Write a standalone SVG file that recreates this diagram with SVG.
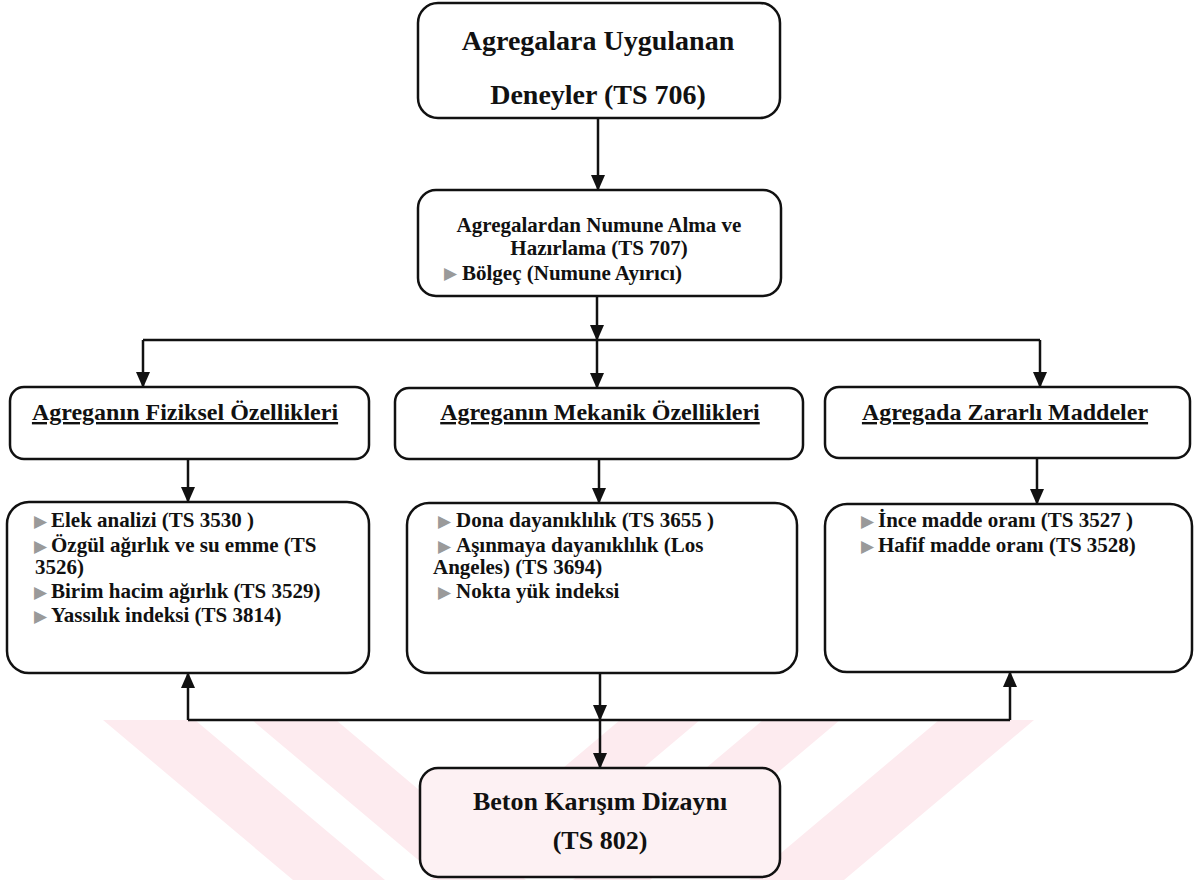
<svg xmlns="http://www.w3.org/2000/svg" width="1197" height="880" viewBox="0 0 1197 880">
<style>
.box{fill:#fff;stroke:#111;stroke-width:2.5}
.t{font-family:"Liberation Serif","Times New Roman",serif;font-weight:bold;fill:#111}
.c{text-anchor:middle}
.u{text-decoration:underline}
.b{font-family:"DejaVu Sans",sans-serif;fill:#9a9a9a;font-size:17px}
.ln{stroke:#111;stroke-width:2.5;fill:none}
.wm{fill:#fdebef}
</style>
<defs>
<marker id="ad" markerUnits="userSpaceOnUse" markerWidth="16" markerHeight="14" refX="15" refY="7" orient="auto" viewBox="0 0 16 14">
<path d="M0,0 L16,7 L0,14 Z" fill="#111"/>
</marker>
</defs>
<rect width="1197" height="880" fill="#fff"/>
<g id="watermark">
<polygon class="wm" points="103,720 195,720 385,880 293,880"/>
<polygon class="wm" points="252,720 336,720 526,880 442,880"/>
<polygon class="wm" points="620,720 700,720 510,880 430,880"/>
<polygon class="wm" points="763,720 840,720 650,880 573,880"/>
<polygon class="wm" points="939,720 1034,720 844,880 749,880"/>
</g>
<g id="connectors">
<line class="ln" x1="598" y1="118" x2="598" y2="190" marker-end="url(#ad)"/>
<line class="ln" x1="597" y1="296" x2="597" y2="340" marker-end="url(#ad)"/>
<line class="ln" x1="143" y1="340" x2="1040" y2="340"/>
<line class="ln" x1="143" y1="340" x2="143" y2="387" marker-end="url(#ad)"/>
<line class="ln" x1="597" y1="340" x2="597" y2="388" marker-end="url(#ad)"/>
<line class="ln" x1="1040" y1="340" x2="1040" y2="387" marker-end="url(#ad)"/>
<line class="ln" x1="188" y1="459" x2="188" y2="502" marker-end="url(#ad)"/>
<line class="ln" x1="599" y1="459" x2="599" y2="503" marker-end="url(#ad)"/>
<line class="ln" x1="1037" y1="458" x2="1037" y2="504" marker-end="url(#ad)"/>
<line class="ln" x1="600" y1="673" x2="600" y2="720" marker-end="url(#ad)"/>
<line class="ln" x1="188" y1="720" x2="1010" y2="720"/>
<line class="ln" x1="188" y1="720" x2="188" y2="673" marker-end="url(#ad)"/>
<line class="ln" x1="1010" y1="720" x2="1010" y2="672" marker-end="url(#ad)"/>
<line class="ln" x1="600" y1="720" x2="600" y2="768" marker-end="url(#ad)"/>
</g>
<g id="n1">
<rect class="box" x="418" y="3" width="362" height="115" rx="20"/>
<text class="t c" x="598" y="50" font-size="28">Agregalara Uygulanan</text>
<text class="t c" x="598" y="104" font-size="28">Deneyler (TS 706)</text>
</g>
<g id="n2">
<rect class="box" x="418" y="190" width="363" height="106" rx="18"/>
<text class="t c" x="599" y="232" font-size="21">Agregalardan Numune Alma ve</text>
<text class="t c" x="599" y="255" font-size="21">Hazırlama (TS 707)</text>
<text class="b" x="444" y="279">▶</text>
<text class="t" x="462" y="280" font-size="21">Bölgeç (Numune Ayırıcı)</text>
</g>
<g id="h1">
<rect class="box" x="10" y="387" width="359" height="72" rx="14"/>
<text class="t c u" x="185" y="420" font-size="24">Agreganın Fiziksel Özellikleri</text>
</g>
<g id="h2">
<rect class="box" x="395" y="388" width="408" height="71" rx="14"/>
<text class="t c u" x="600" y="420" font-size="24">Agreganın Mekanik Özellikleri</text>
</g>
<g id="h3">
<rect class="box" x="825" y="387" width="365" height="71" rx="14"/>
<text class="t c u" x="1005" y="420" font-size="24">Agregada Zararlı Maddeler</text>
</g>
<g id="c1">
<rect class="box" x="7" y="502" width="362" height="171" rx="22"/>
<text class="b" x="34" y="527">▶</text>
<text class="t" x="51" y="527" font-size="21">Elek analizi (TS 3530 )</text>
<text class="b" x="34" y="552">▶</text>
<text class="t" x="51" y="552" font-size="21">Özgül ağırlık ve su emme (TS</text>
<text class="t" x="35" y="574" font-size="21">3526)</text>
<text class="b" x="34" y="598">▶</text>
<text class="t" x="51" y="598" font-size="21">Birim hacim ağırlık (TS 3529)</text>
<text class="b" x="34" y="622">▶</text>
<text class="t" x="51" y="622" font-size="21">Yassılık indeksi (TS 3814)</text>
</g>
<g id="c2">
<rect class="box" x="407" y="503" width="390" height="170" rx="22"/>
<text class="b" x="438" y="527">▶</text>
<text class="t" x="456" y="527" font-size="21">Dona dayanıklılık (TS 3655 )</text>
<text class="b" x="438" y="552">▶</text>
<text class="t" x="456" y="552" font-size="21">Aşınmaya dayanıklılık (Los</text>
<text class="t" x="433" y="574" font-size="21">Angeles) (TS 3694)</text>
<text class="b" x="438" y="598">▶</text>
<text class="t" x="456" y="598" font-size="21">Nokta yük indeksi</text>
</g>
<g id="c3">
<rect class="box" x="825" y="504" width="367" height="168" rx="22"/>
<text class="b" x="861" y="527">▶</text>
<text class="t" x="878" y="527" font-size="21">İnce madde oranı (TS 3527 )</text>
<text class="b" x="861" y="552">▶</text>
<text class="t" x="878" y="552" font-size="21">Hafif madde oranı (TS 3528)</text>
</g>
<g id="n3">
<rect x="420" y="768" width="360" height="109" rx="18" fill="#fdf1f3" stroke="#111" stroke-width="2.5"/>
<text class="t c" x="600" y="810" font-size="26">Beton Karışım Dizaynı</text>
<text class="t c" x="600" y="849" font-size="26">(TS 802)</text>
</g>
</svg>
